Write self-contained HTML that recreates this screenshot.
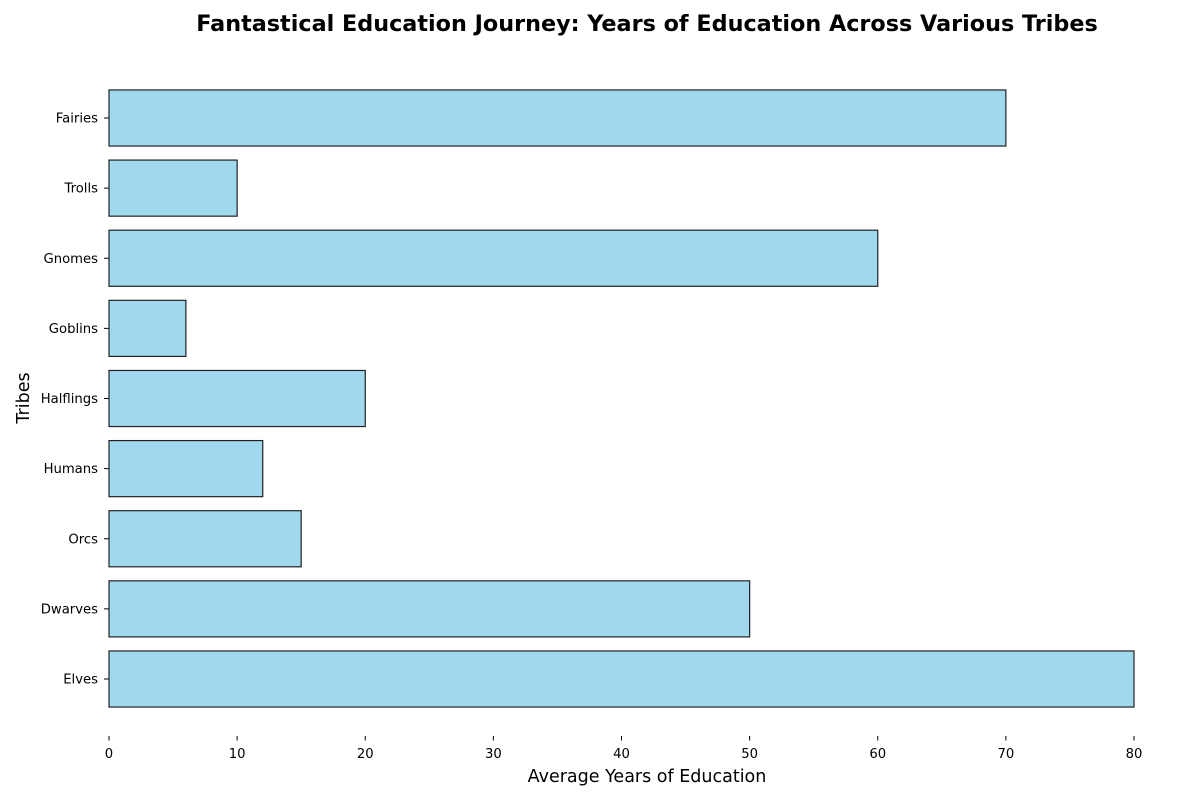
<!DOCTYPE html>
<html><head><meta charset="utf-8"><style>
body{margin:0;background:#fff;font-family:"Liberation Sans","DejaVu Sans",sans-serif;}
svg text{font-family:"DejaVu Sans","Liberation Sans",sans-serif;}
</style></head><body>
<svg id="chart" width="1200" height="800" xmlns="http://www.w3.org/2000/svg">
<text x="647" y="31" text-anchor="middle" font-size="22.3" font-weight="bold">Fantastical Education Journey: Years of Education Across Various Tribes</text>
<text x="647" y="782" text-anchor="middle" font-size="17.5">Average Years of Education</text>
<text transform="translate(29,398) rotate(-90)" text-anchor="middle" font-size="17.5">Tribes</text>
<g id="bars"></g><g id="xticks"></g><g id="yticks"></g>
</svg>
<script>
const categories=["Elves","Dwarves","Orcs","Humans","Halflings","Goblins","Gnomes","Trolls","Fairies"];
const values=[80,50,15,12,20,6,60,10,70];
const xTicks=[0,10,20,30,40,50,60,70,80];
const x0=109,x1=1134,xMax=80;
const yFirst=679,step=70.125,barH=56.1;
function xs(v){return x0+(v/xMax)*(x1-x0);}
function ys(i){return yFirst-i*step;}
const ns="http://www.w3.org/2000/svg";
const bars=document.getElementById('bars'),xt=document.getElementById('xticks'),yt=document.getElementById('yticks');
categories.forEach((c,i)=>{
  const r=document.createElementNS(ns,'rect');
  
  
  r.setAttribute('x',xs(0));r.setAttribute('y',ys(i)-barH/2);
  r.setAttribute('width',xs(values[i])-xs(0));r.setAttribute('height',barH);
  r.setAttribute('fill','#a0d8ee');r.setAttribute('stroke','#222');r.setAttribute('stroke-width','1.2');
  bars.appendChild(r);
  const t=document.createElementNS(ns,'text');
  
  
  t.setAttribute('x',98);t.setAttribute('y',ys(i)+4.5);t.setAttribute('text-anchor','end');t.setAttribute('font-size','13.2');
  t.textContent=c;yt.appendChild(t);
  const l=document.createElementNS(ns,'line');
  
  
  l.setAttribute('x1',104);l.setAttribute('x2',108.5);l.setAttribute('y1',ys(i));l.setAttribute('y2',ys(i));l.setAttribute('stroke','#000');l.setAttribute('stroke-width','1');
  yt.appendChild(l);
});
xTicks.forEach(v=>{
  const t=document.createElementNS(ns,'text');
  
  
  t.setAttribute('x',xs(v));t.setAttribute('y',758);t.setAttribute('text-anchor','middle');t.setAttribute('font-size','13.2');
  t.textContent=v;xt.appendChild(t);
  const l=document.createElementNS(ns,'line');
  
  
  l.setAttribute('x1',xs(v));l.setAttribute('x2',xs(v));l.setAttribute('y1',736);l.setAttribute('y2',740.5);l.setAttribute('stroke','#000');l.setAttribute('stroke-width','1');
  xt.appendChild(l);
});
</script>
</body></html>
